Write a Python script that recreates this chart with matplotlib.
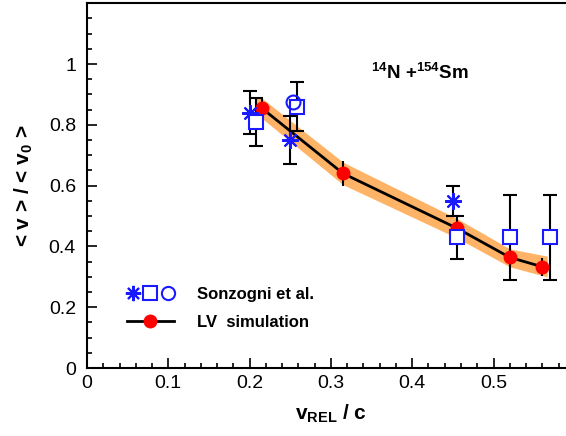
import numpy as np
import matplotlib
matplotlib.use('Agg')
import matplotlib.pyplot as plt
from matplotlib.lines import Line2D
from matplotlib.legend_handler import HandlerTuple
from matplotlib.ticker import MultipleLocator, FuncFormatter

plt.rcParams['font.family'] = ['Liberation Sans', 'DejaVu Sans']
plt.rcParams['mathtext.fontset'] = 'custom'
plt.rcParams['mathtext.rm'] = 'Liberation Sans'
plt.rcParams['mathtext.bf'] = 'Liberation Sans:bold'
plt.rcParams['mathtext.it'] = 'Liberation Sans:italic'

# Sonzogni et al. data
ast_x = [0.200, 0.250, 0.450]
ast_y = [0.84, 0.75, 0.55]
ast_err = [0.07, 0.08, 0.05]

sq_x = [0.208, 0.258, 0.455, 0.520, 0.570]
sq_y = [0.81, 0.86, 0.43, 0.43, 0.43]
sq_err = [0.08, 0.08, 0.07, 0.14, 0.14]

circ_x = [0.253]
circ_y = [0.876]

# LV simulation
lv_x = [0.215, 0.315, 0.455, 0.520, 0.560]
lv_y = [0.855, 0.640, 0.460, 0.364, 0.333]
lv_err = [0.03, 0.04, 0.03, 0.03, 0.03]

# simulation uncertainty band
band_x = [0.207, 0.215, 0.315, 0.455, 0.520, 0.566]
band_lo = [0.820, 0.822, 0.603, 0.428, 0.333, 0.300]
band_hi = [0.890, 0.888, 0.677, 0.492, 0.392, 0.368]

blue = '#1a1aff'
asterisk = (8, 2, 0)

fig = plt.figure(figsize=(5.66, 4.36), dpi=100)
W, H = 566, 436
x0, x1 = 87, 87 + 0.6 * 813
y0, y1 = 368, 3.3
ax = fig.add_axes([x0 / W, (H - y0) / H, (x1 - x0) / W, (y0 - y1) / H])

ax.fill_between(band_x, band_lo, band_hi, color='#ffb366', lw=0, zorder=1)
ax.errorbar(lv_x, lv_y, yerr=lv_err, fmt='none', ecolor='black', elinewidth=1.5, capsize=0, zorder=2)
ax.errorbar(ast_x, ast_y, yerr=ast_err, fmt='none', ecolor='black', elinewidth=1.5,
            capsize=5, capthick=1.5, zorder=2)
ax.errorbar(sq_x, sq_y, yerr=sq_err, fmt='none', ecolor='black', elinewidth=1.5,
            capsize=5, capthick=1.5, zorder=2)
ax.plot(lv_x, lv_y, '-', color='black', lw=2, zorder=3)
ax.plot(lv_x, lv_y, 'o', color='red', ms=9, mec='red', zorder=4)
ax.plot(ast_x, ast_y, ls='none', marker=asterisk, ms=12, mec=blue, mew=1.5, zorder=5)
ax.plot(sq_x, sq_y, 's', ms=9.5, mfc='white', mec=blue, mew=1.5, zorder=5)
ax.plot(circ_x, circ_y, 'o', ms=10, mfc='none', mec=blue, mew=1.5, zorder=5)

ax.set_xlim(0, 0.6)
ax.set_ylim(0, 1.2)
ax.xaxis.set_major_locator(MultipleLocator(0.1))
ax.xaxis.set_minor_locator(MultipleLocator(0.02))
ax.yaxis.set_major_locator(MultipleLocator(0.2))
ax.yaxis.set_minor_locator(MultipleLocator(0.05))
ax.xaxis.set_major_formatter(FuncFormatter(lambda v, p: '%g' % round(v, 3) if v < 0.55 else ''))
ax.yaxis.set_major_formatter(FuncFormatter(lambda v, p: '%g' % round(v, 3) if v < 1.1 else ''))
ax.tick_params(which='both', direction='in', width=1.2, labelsize=14, top=False, right=False)
ax.tick_params(which='major', length=7)
ax.tick_params(which='minor', length=3.5)
ax.tick_params(axis='y', pad=8)
ax.tick_params(axis='x', pad=5)
for s in ax.spines.values():
    s.set_linewidth(1.5)
ax.spines['right'].set_visible(False)

ax.set_xlabel(r'$\mathbf{v_{REL}}$ / c', fontsize=15, fontweight='bold', labelpad=8)
ax.set_ylabel(r'< v > / < v$_{\mathbf{0}}$ >', fontsize=15, fontweight='bold', labelpad=10)

fig.text(420 / W, 1 - 73 / H, r'$^{\mathbf{14}}$N +$^{\mathbf{154}}$Sm', fontsize=13.5,
         fontweight='bold', ha='center', va='center')

h_ast = Line2D([], [], ls='none', marker=asterisk, ms=11, mec=blue, mew=1.5)
h_sq = Line2D([], [], ls='none', marker='s', ms=9.5, mfc='white', mec=blue, mew=1.5)
h_circ = Line2D([], [], ls='none', marker='o', ms=9.5, mfc='none', mec=blue, mew=1.5)
h_lv = Line2D([], [], color='black', lw=2, marker='o', ms=9, mfc='red', mec='red')
leg = ax.legend([(h_ast, h_sq, h_circ), h_lv], ['Sonzogni et al.', 'LV  simulation'],
                handler_map={tuple: HandlerTuple(ndivide=None, pad=0.3)},
                loc='upper left', bbox_to_anchor=(112 / W, 1 - 272 / H), bbox_transform=fig.transFigure,
                frameon=False, handlelength=2.8, labelspacing=0.75, handletextpad=1.4,
                prop={'weight': 'bold', 'size': 12})

fig.savefig('out.png', dpi=100)
